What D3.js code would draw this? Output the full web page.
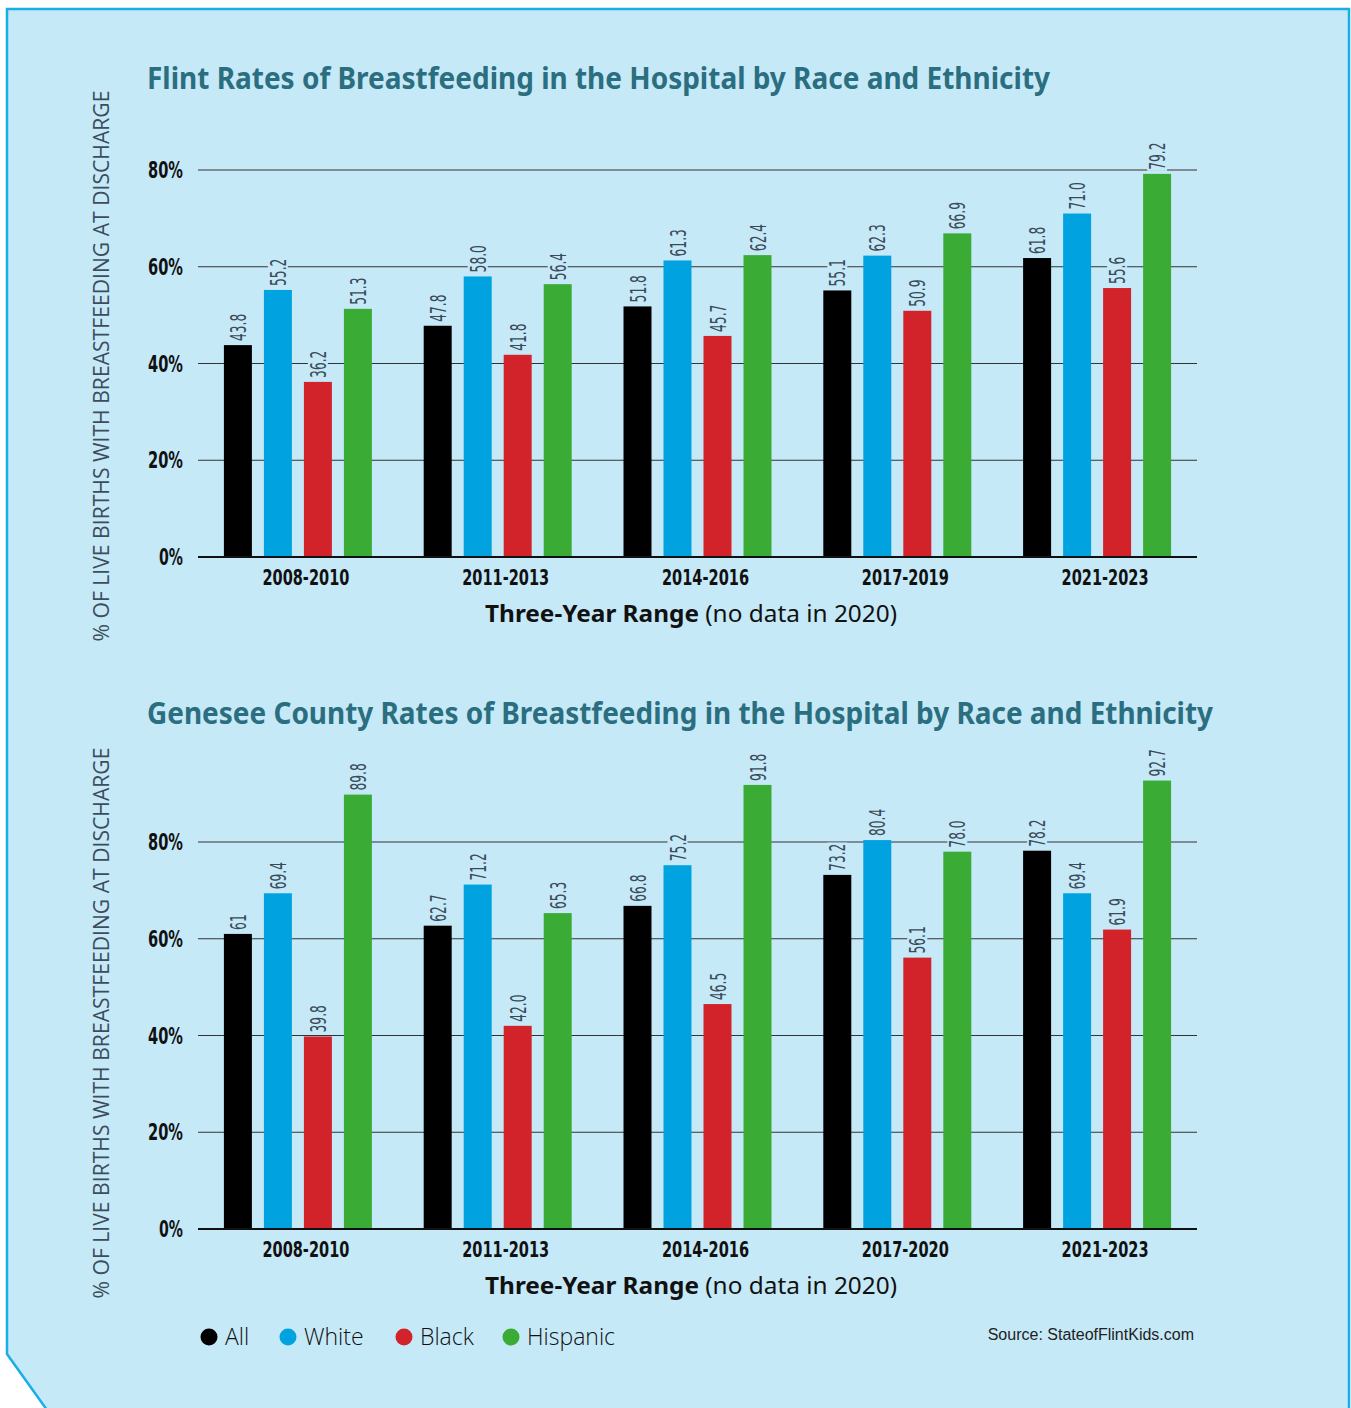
<!DOCTYPE html>
<html>
<head>
<meta charset="utf-8">
<script src="https://cdn.jsdelivr.net/npm/d3@7"></script>
<style>
  body { margin: 0; background: #fff; }
  svg { display: block; }
</style>
</head>
<body>
<div id="chart"></div>
<script>
// data (values kept as text so labels like "61" and "42.0" print as in the source)
const series = ["All", "White", "Black", "Hispanic"];
const colors = ["#000000", "#00a3e0", "#d2232a", "#3aab35"];
const yTicks = [0, 20, 40, 60, 80];

const flintRanges = ["2008-2010", "2011-2013", "2014-2016", "2017-2019", "2021-2023"];
const flintAll      = ["43.8", "47.8", "51.8", "55.1", "61.8"];
const flintWhite    = ["55.2", "58.0", "61.3", "62.3", "71.0"];
const flintBlack    = ["36.2", "41.8", "45.7", "50.9", "55.6"];
const flintHispanic = ["51.3", "56.4", "62.4", "66.9", "79.2"];

const geneseeRanges = ["2008-2010", "2011-2013", "2014-2016", "2017-2020", "2021-2023"];
const geneseeAll      = ["61", "62.7", "66.8", "73.2", "78.2"];
const geneseeWhite    = ["69.4", "71.2", "75.2", "80.4", "69.4"];
const geneseeBlack    = ["39.8", "42.0", "46.5", "56.1", "61.9"];
const geneseeHispanic = ["89.8", "65.3", "91.8", "78.0", "92.7"];

const W = 1351, H = 1408;
const bg = "#c6e9f8";
const narrow = "'DejaVu Sans', sans-serif";

// the source uses a condensed face; squeeze a regular one to about the same width
function labelLen(s) {
    let n = 0;
    for (let c of s) n += (c === "." ? 3.6 : 7.9);
    return n;
}

const svg = d3.select("#chart").append("svg")
    .attr("width", W)
    .attr("height", H);

// panel with cut corner
svg.append("path")
    .attr("d", "M7,9 L1349,9 L1349,1410 L47,1410 L7,1354 Z")
    .attr("fill", bg)
    .attr("stroke", "#19aee6")
    .attr("stroke-width", 2.5);

function drawChart(opts) {
    let rows = [opts.all, opts.white, opts.black, opts.hispanic];
    let data = opts.ranges.map((r, i) => ({
        range: r,
        values: series.map((s, j) => ({key: s, color: colors[j], label: rows[j][i], value: +rows[j][i]}))
    }));

    let left = 198, right = 1197;
    let y = d3.scaleLinear().domain([0, 80]).range([opts.base, opts.base - 387]);
    let x0 = d3.scaleBand().domain(opts.ranges).range([left, right]);
    let x1 = d3.scaleBand().domain(series).range([0, 160]).paddingInner(0.3).paddingOuter(0.15);

    let g = svg.append("g");

    // title
    g.append("text")
        .attr("x", 147)
        .attr("y", opts.titleY)
        .attr("font-family", "'Noto Sans', sans-serif")
        .attr("font-weight", 700)
        .attr("font-size", 30)
        .attr("fill", "#2b6e7f")
        .attr("textLength", opts.titleLen)
        .attr("lengthAdjust", "spacingAndGlyphs")
        .text(opts.title);

    // y axis title
    g.append("text")
        .attr("transform", `translate(109, ${opts.yTitleMid}) rotate(-90)`)
        .attr("text-anchor", "middle")
        .attr("font-family", "'Open Sans', sans-serif")
        .attr("font-weight", 400)
        .attr("font-size", 21)
        .attr("fill", "#3d4d5a")
        .attr("textLength", 551)
        .attr("lengthAdjust", "spacingAndGlyphs")
        .text("% OF LIVE BIRTHS WITH BREASTFEEDING AT DISCHARGE");

    // gridlines
    g.append("g").selectAll("line")
        .data(yTicks.filter(t => t > 0))
        .join("line")
        .attr("x1", left).attr("x2", right)
        .attr("y1", d => y(d)).attr("y2", d => y(d))
        .attr("stroke", "#333")
        .attr("stroke-width", 1.2);

    // tick labels
    g.append("g").selectAll("text")
        .data(yTicks)
        .join("text")
        .attr("x", 183)
        .attr("y", d => y(d) + 8)
        .attr("text-anchor", "end")
        .attr("font-family", narrow)
        .attr("font-weight", 700)
        .attr("font-size", 22.5)
        .attr("fill", "#111")
        .attr("textLength", d => d === 0 ? 24 : 35)
        .attr("lengthAdjust", "spacingAndGlyphs")
        .text(d => d + "%");

    let groups = g.append("g").selectAll("g")
        .data(data)
        .join("g")
        .attr("transform", d => `translate(${x0(d.range) + (x0.bandwidth() - 160) / 2}, 0)`);

    groups.selectAll("rect")
        .data(d => d.values)
        .join("rect")
        .attr("x", d => x1(d.key))
        .attr("width", x1.bandwidth())
        .attr("y", d => y(d.value))
        .attr("height", d => y(0) - y(d.value))
        .attr("fill", d => d.color);

    // value labels with background knock-out
    let labels = groups.selectAll("g.lbl")
        .data(d => d.values)
        .join("g")
        .attr("class", "lbl")
        .attr("transform", d => `translate(${x1(d.key) + x1.bandwidth() / 2 + 8}, ${y(d.value) - 4}) rotate(-90)`);

    labels.append("rect")
        .attr("x", -1)
        .attr("y", -18)
        .attr("width", d => labelLen(d.label) + 2)
        .attr("height", 20)
        .attr("fill", bg);

    labels.append("text")
        .attr("font-family", narrow)
        .attr("font-size", 22)
        .attr("fill", "#3a4a58")
        .attr("textLength", d => labelLen(d.label))
        .attr("lengthAdjust", "spacingAndGlyphs")
        .text(d => d.label);

    // baseline
    g.append("line")
        .attr("x1", left).attr("x2", right)
        .attr("y1", y(0)).attr("y2", y(0))
        .attr("stroke", "#111")
        .attr("stroke-width", 2);

    // category labels
    g.append("g").selectAll("text")
        .data(opts.ranges)
        .join("text")
        .attr("x", d => x0(d) + x0.bandwidth() / 2 + 8)
        .attr("y", opts.base + 28)
        .attr("text-anchor", "middle")
        .attr("font-family", narrow)
        .attr("font-weight", 700)
        .attr("font-size", 22)
        .attr("fill", "#111")
        .attr("textLength", 87)
        .attr("lengthAdjust", "spacingAndGlyphs")
        .text(d => d);

    // x axis title
    let xt = g.append("text")
        .attr("x", 691)
        .attr("y", opts.base + 65)
        .attr("text-anchor", "middle")
        .attr("font-family", "'Noto Sans', sans-serif")
        .attr("font-size", 24)
        .attr("fill", "#111")
        .attr("textLength", 412)
        .attr("lengthAdjust", "spacingAndGlyphs");
    xt.append("tspan").attr("font-weight", 700).text("Three-Year Range ");
    xt.append("tspan").attr("font-weight", 400).text("(no data in 2020)");
}

drawChart({
    title: "Flint Rates of Breastfeeding in the Hospital by Race and Ethnicity",
    titleY: 89, titleLen: 903, base: 557, yTitleMid: 366,
    ranges: flintRanges, all: flintAll, white: flintWhite, black: flintBlack, hispanic: flintHispanic
});

drawChart({
    title: "Genesee County Rates of Breastfeeding in the Hospital by Race and Ethnicity",
    titleY: 724, titleLen: 1066, base: 1229, yTitleMid: 1023,
    ranges: geneseeRanges, all: geneseeAll, white: geneseeWhite, black: geneseeBlack, hispanic: geneseeHispanic
});

// legend
let legendX = [209, 288, 404, 511];
let legend = svg.append("g").selectAll("g")
    .data(series)
    .join("g")
    .attr("transform", (d, i) => `translate(${legendX[i]}, 1337)`);

legend.append("circle")
    .attr("r", 8.5)
    .attr("fill", (d, i) => colors[i]);

legend.append("text")
    .attr("x", 16)
    .attr("y", 8)
    .attr("font-family", "'Open Sans', sans-serif")
    .attr("font-weight", 300)
    .attr("font-size", 23)
    .attr("fill", "#111")
    .text(d => d);

svg.append("text")
    .attr("x", 1194)
    .attr("y", 1340)
    .attr("text-anchor", "end")
    .attr("font-family", "'Liberation Sans', Arial, sans-serif")
    .attr("font-size", 16)
    .attr("fill", "#222")
    .text("Source: StateofFlintKids.com");
</script>
</body>
</html>
